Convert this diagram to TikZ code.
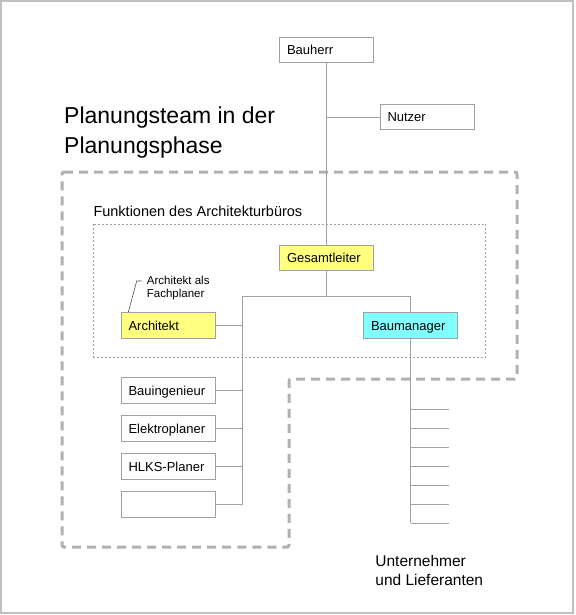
\documentclass[tikz,border=0pt]{standalone}
\usepackage{fontspec}
\setmainfont{Liberation Sans}
\definecolor{linegrey}{HTML}{A0A0A0}
\definecolor{dashgrey}{HTML}{B0B0B0}
\definecolor{framegrey}{HTML}{C0C0C0}
\definecolor{gelb}{HTML}{FFFF80}
\definecolor{tuerkis}{HTML}{80FFFF}

\begin{document}
\begin{tikzpicture}[x=1pt,y=-1pt,
  rolle/.style={draw=linegrey,line width=0.8pt,fill=white,inner xsep=7.5pt,inner ysep=0pt,
    text width=79pt,align=left,minimum height=25.5pt,text height=10.5pt,text depth=1pt,
    font=\fontsize{13}{15}\selectfont},
  linie/.style={draw=linegrey,line width=0.8pt}]
\path[draw=framegrey,line width=1.2pt] (1,1) rectangle (573,613);
\useasboundingbox (0,0) rectangle (575,615);
% Planungsteam
\path[draw=dashgrey,line width=3pt,dash pattern=on 9pt off 6pt,rounded corners=2pt]
  (62,172) -- (517,172) -- (517,379) -- (289,379) -- (289,547) -- (62,547) -- cycle;
\node[anchor=base west,inner sep=0pt,align=left,font=\fontsize{23}{30}\selectfont] (titel) at (64,153)
  {Planungsteam in der\\Planungsphase};
% Architekturbuero
\path[draw=linegrey,line width=0.6pt,dash pattern=on 2pt off 2pt] (93.3,224.3) rectangle (485.7,357);
\node[anchor=base west,inner sep=0pt,font=\fontsize{14.5}{17}\selectfont] (buero) at (93.3,216.7)
  {Funktionen des Architekturbüros};
% Rollen
\node[rolle] (bauherr) at (326.5,49.8) {Bauherr};
\node[rolle] (nutzer) at (427,117) {Nutzer};
\node[rolle,fill=gelb] (gesamtleiter) at (326.5,258) {Gesamtleiter};
\node[rolle,fill=gelb] (architekt) at (168,325.3) {Architekt};
\node[rolle,fill=tuerkis] (baumanager) at (410.5,325.3) {Baumanager};
\node[rolle] (bauing) at (168,390.3) {Bauingenieur};
\node[rolle] (elektro) at (168,428.3) {Elektroplaner};
\node[rolle] (hlks) at (168,466.3) {HLKS-Planer};
\node[rolle] (leer) at (168,504.3) {};
% Verbindungen
\coordinate (gabelL) at (242.7,296);
\coordinate (gabelR) at (baumanager.north |- gabelL);
\draw[linie] (bauherr.south) -- (gesamtleiter.north);
\draw[linie] (nutzer.west) -- (bauherr.south |- nutzer.west);
\draw[linie] (gesamtleiter.south) -- (gesamtleiter.south |- gabelL);
\draw[linie] (gabelL |- leer.east) -- (gabelL) -- (gabelR) -- (baumanager.north);
\foreach \n in {architekt,bauing,elektro,hlks,leer}
  \draw[linie] (\n.east) -- (gabelL |- \n.east);
% Unternehmer und Lieferanten
\coordinate (liefende) at (baumanager.south |- 0,523.3);
\draw[linie] (baumanager.south) -- (liefende);
\foreach \i in {0,...,6} {
  \coordinate (lief\i) at ([yshift=-19*\i pt]liefende |- 0,409.3);
  \draw[linie] (lief\i) -- ++(38.5,0);
}
\node[anchor=base west,inner sep=0pt,align=left,font=\fontsize{15.5}{18.3}\selectfont] (unternehmer) at (375.2,585)
  {Unternehmer\\und Lieferanten};
% Anmerkung
\node[anchor=base west,inner sep=0pt,align=left,font=\fontsize{11.5}{13}\selectfont] (fachplaner) at (146.7,297.3)
  {Architekt als\\Fachplaner};
\coordinate (knick) at (136.7,281);
\coordinate (knickende) at (141.7,281);
\draw[draw=black!70,line width=0.6pt] ([xshift=-39.7pt]architekt.north) -- (knick) -- (knickende);
\end{tikzpicture}
\end{document}
